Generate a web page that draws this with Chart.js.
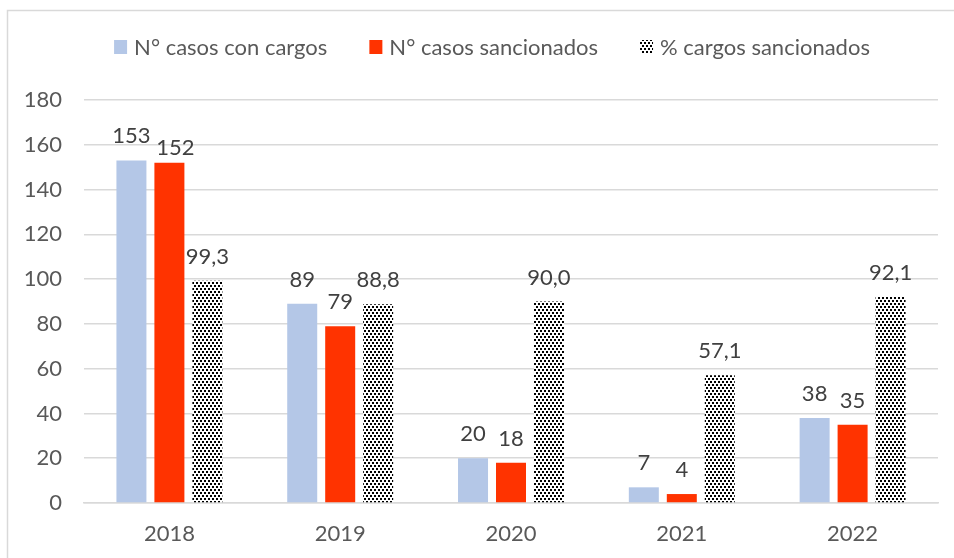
<!DOCTYPE html>
<html>
<head>
<meta charset="utf-8">
<script src="https://cdn.jsdelivr.net/npm/chart.js"></script>
<style>
  html, body { margin: 0; padding: 0; background: #fff; }
  #wrap { width: 954px; height: 558px; position: relative; }
</style>
</head>
<body>
<div id="wrap"><canvas id="c"></canvas></div>
<script>
// ── data ─────────────────────────────────────────────────────────────────────
const years = ['2018', '2019', '2020', '2021', '2022'];
const casosConCargos = [153, 89, 20, 7, 38];
const casosSancionados = [152, 79, 18, 4, 35];
const pctSancionados = [99.3, 88.8, 90.0, 57.1, 92.1];
const seriesNames = ['N° casos con cargos', 'N° casos sancionados', '% cargos sancionados'];
const yTicks = [0, 20, 40, 60, 80, 100, 120, 140, 160, 180];

const FONT = 'Lato, "Open Sans", sans-serif';
const FS = 22;

// small staggered dot pattern like the Excel fill
function dotPattern() {
    const t = document.createElement('canvas');
    t.width = 4; t.height = 6;
    const g = t.getContext('2d');
    g.fillStyle = '#fff';
    g.fillRect(0, 0, 4, 6);
    g.fillStyle = '#000';
    g.fillRect(0, 0, 2, 2);
    g.fillRect(2, 3, 2, 2);
    return g.createPattern(t, 'repeat');
}

const ctx = document.getElementById('c').getContext('2d');
const pattern = dotPattern();

// frame around the whole chart
const framePlugin = {
    id: 'frame',
    beforeDraw(chart) {
        const c = chart.ctx;
        c.save();
        c.fillStyle = '#fff';
        c.fillRect(0, 0, chart.width, chart.height);
        c.strokeStyle = '#d9d9d9';
        c.lineWidth = 1.5;
        c.strokeRect(7.5, 10.5, chart.width + 10, chart.height + 10);
        c.restore();
    }
};

// value labels above each bar; a label that would run into its left
// neighbour is nudged right/down a little, like Excel does
const valueLabels = {
    id: 'valueLabels',
    afterDatasetsDraw(chart) {
        const c = chart.ctx;
        c.save();
        c.font = FS + 'px ' + FONT;
        c.fillStyle = '#404040';
        c.textAlign = 'center';
        c.textBaseline = 'alphabetic';
        chart.data.labels.forEach((_, j) => {
            let prev = null;
            chart.data.datasets.forEach((ds, i) => {
                const bar = chart.getDatasetMeta(i).data[j];
                const v = ds.data[j];
                const txt = i === 2 ? v.toFixed(1).replace('.', ',') : String(v);
                const w = c.measureText(txt).width;
                let x = bar.x, y = bar.y - 17;
                if (prev && x - w / 2 < prev.right + 4 && Math.abs(y - prev.y) < FS * 0.8) {
                    x += 6; y += 9;
                }
                c.fillText(txt, x, y);
                prev = { right: x + w / 2, y };
            });
        });
        c.restore();
    }
};

// legend drawn in one row, Excel style
const topLegend = {
    id: 'topLegend',
    afterDraw(chart) {
        const c = chart.ctx;
        c.save();
        c.font = FS + 'px ' + FONT;
        c.textBaseline = 'middle';
        const box = 13, gap = 7, spacing = 42, y = 47;
        const widths = chart.data.datasets.map(ds => c.measureText(ds.label).width);
        const total = widths.reduce((a, w) => a + box + gap + w, 0) + spacing * (widths.length - 1);
        let x = 492 - total / 2;
        chart.data.datasets.forEach((ds, i) => {
            c.fillStyle = ds.backgroundColor;
            c.fillRect(x, y - 7, box, 14);
            x += box + gap;
            c.fillStyle = '#595959';
            c.fillText(ds.label, x, y + 1);
            x += widths[i] + spacing;
        });
        c.restore();
    }
};

new Chart(ctx, {
    type: 'bar',
    data: {
        labels: years,
        datasets: [
            { label: seriesNames[0], data: casosConCargos, backgroundColor: '#b4c7e7' },
            { label: seriesNames[1], data: casosSancionados, backgroundColor: '#ff3300' },
            { label: seriesNames[2], data: pctSancionados, backgroundColor: pattern }
        ]
    },
    options: {
        responsive: true,
        maintainAspectRatio: false,
        animation: false,
        layout: { padding: { top: 100, right: 16, bottom: 0, left: 0 } },
        categoryPercentage: 0.667,
        barPercentage: 0.79,
        scales: {
            x: {
                grid: { display: false },
                border: { display: true, color: '#d9d9d9', width: 1.5 },
                ticks: { color: '#595959', font: { family: FONT, size: FS }, padding: 10 },
                afterFit: s => { s.height = 55; }
            },
            y: {
                min: 0,
                max: 180,
                afterBuildTicks: s => { s.ticks = yTicks.map(v => ({ value: v })); },
                grid: { color: '#d9d9d9', lineWidth: 1.5, drawTicks: false },
                border: { display: false },
                ticks: { color: '#595959', font: { family: FONT, size: FS }, padding: 22 },
                afterFit: s => { s.width = 84; }
            }
        },
        plugins: {
            legend: { display: false },
            tooltip: { enabled: false }
        }
    },
    plugins: [framePlugin, valueLabels, topLegend]
});
</script>
</body>
</html>
